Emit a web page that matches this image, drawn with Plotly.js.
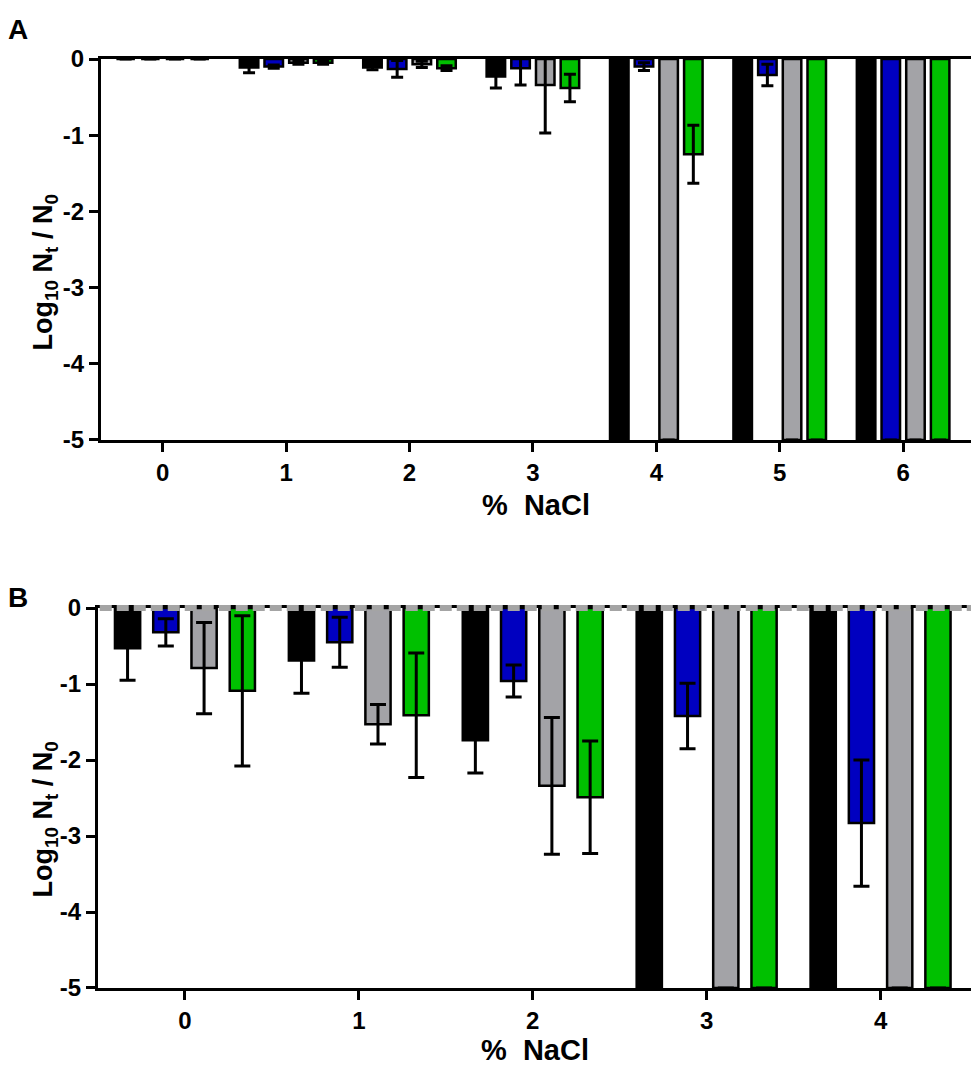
<!DOCTYPE html>
<html>
<head>
<meta charset="utf-8">
<script src="https://cdn.plot.ly/plotly-3.0.1.min.js"></script>
<style>
  body { margin: 0; background: #fff; }
  #chart { width: 975px; height: 1074px; }
</style>
</head>
<body>
<div id="chart"></div>
<script>
// panel A : 0 - 6 % NaCl
let catsA = [0, 1, 2, 3, 4, 5, 6];
let blackA = [0, -0.11, -0.11, -0.23, -5, -5, -5];
let blackErrA = [null, 0.07, 0.03, 0.15, null, null, null];
let blueA = [0, -0.1, -0.13, -0.12, -0.1, -0.21, -5];
let blueErrA = [null, 0.02, 0.11, 0.22, 0.05, 0.14, null];
let grayA = [0, -0.05, -0.07, -0.34, -5, -5, -5];
let grayErrA = [null, 0.02, 0.04, 0.63, null, null, null];
let greenA = [0, -0.05, -0.12, -0.38, -1.25, -5, -5];
let greenErrA = [null, 0.02, 0.03, 0.18, 0.38, null, null];

// panel B : 0 - 4 % NaCl
let catsB = [0, 1, 2, 3, 4];
let blackB = [-0.53, -0.69, -1.74, -5, -5];
let blackErrB = [0.42, 0.43, 0.43, null, null];
let blueB = [-0.32, -0.45, -0.96, -1.42, -2.83];
let blueErrB = [0.18, 0.33, 0.21, 0.43, 0.83];
let grayB = [-0.79, -1.53, -2.34, -5, -5];
let grayErrB = [0.6, 0.26, 0.9, null, null];
let greenB = [-1.09, -1.41, -2.49, -5, -5];
let greenErrB = [0.99, 0.82, 0.74, null, null];

let yTicks = [0, -1, -2, -3, -4, -5];

let colors = ['#000000', '#0000c0', '#a3a3a7', '#00c000'];
let fontFam = 'Liberation Sans, Arial, sans-serif';

//one bar trace, placed in its slot of the group
makeBar = (x, y, err, k, slot, w, capw, xa, ya) => {
    return {
        x: x,
        y: y,
        type: 'bar',
        xaxis: xa,
        yaxis: ya,
        width: w,
        offset: -2 * slot + k * slot + (slot - w) / 2,
        marker: { color: colors[k], line: { color: '#000', width: 2.5 } },
        error_y: {
            type: 'data',
            array: err,
            symmetric: true,
            visible: true,
            color: '#000',
            thickness: 3,
            width: capw
        },
        showlegend: false,
        hoverinfo: 'skip'
    };
}

var data = [
    makeBar(catsA, blackA, blackErrA, 0, 0.2, 0.15, 6, 'x', 'y'),
    makeBar(catsA, blueA, blueErrA, 1, 0.2, 0.15, 6, 'x', 'y'),
    makeBar(catsA, grayA, grayErrA, 2, 0.2, 0.15, 6, 'x', 'y'),
    makeBar(catsA, greenA, greenErrA, 3, 0.2, 0.15, 6, 'x', 'y'),
    makeBar(catsB, blackB, blackErrB, 0, 0.22, 0.145, 8, 'x2', 'y2'),
    makeBar(catsB, blueB, blueErrB, 1, 0.22, 0.145, 8, 'x2', 'y2'),
    makeBar(catsB, grayB, grayErrB, 2, 0.22, 0.145, 8, 'x2', 'y2'),
    makeBar(catsB, greenB, greenErrB, 3, 0.22, 0.145, 8, 'x2', 'y2')
];

var tickFont = { family: fontFam, size: 24, color: '#000', weight: 'bold' };
var xTitleFont = { family: fontFam, size: 29, color: '#000', weight: 'bold' };
var yTitleFont = { family: fontFam, size: 27, color: '#000', weight: 'bold' };
var letterFont = { family: fontFam, size: 28, color: '#000', weight: 'bold' };

xAxisOf = (cats, range, domain, anchor) => ({
    domain: domain,
    anchor: anchor,
    range: range,
    tickvals: cats,
    ticktext: cats.map(String),
    showline: true,
    linecolor: '#000',
    linewidth: 3,
    mirror: true,
    ticks: 'outside',
    ticklen: 9,
    tickwidth: 3,
    tickcolor: '#000',
    showgrid: false,
    zeroline: false,
    tickfont: tickFont
});

yAxisOf = (domain, anchor) => ({
    domain: domain,
    anchor: anchor,
    range: [-5, 0],
    tickvals: yTicks,
    ticktext: yTicks.map(String),
    showline: true,
    linecolor: '#000',
    linewidth: 3,
    ticks: 'outside',
    ticklen: 9,
    tickwidth: 3,
    tickcolor: '#000',
    showgrid: false,
    zeroline: false,
    tickfont: tickFont
});

// axis titles as annotations so they sit where the figure puts them
var yTitle = 'Log<sub>10</sub> N<sub>t</sub> / N<sub>0</sub>';
var xTitle = '%  NaCl';

note = (text, x, y, font, angle, xanchor) => ({
    text: text, textangle: angle, xref: 'paper', yref: 'paper', x: x, y: y,
    xanchor: xanchor, yanchor: 'middle', showarrow: false, font: font
});

var layout = {
    width: 975,
    height: 1074,
    margin: { l: 98, r: 4, t: 59, b: 86 },
    paper_bgcolor: '#fff',
    plot_bgcolor: '#fff',
    barmode: 'overlay',
    xaxis: xAxisOf(catsA, [-0.5, 6.55], [0.0034, 1], 'y'),
    yaxis: yAxisOf([0.59, 1], 'x'),
    xaxis2: xAxisOf(catsB, [-0.5, 4.52], [0, 1], 'y2'),
    yaxis2: yAxisOf([0, 0.409], 'x2'),
    shapes: [
        // grey dotted line laid over the zero line of panel B
        {
            type: 'line', layer: 'above',
            xref: 'paper', yref: 'paper',
            x0: 0.002, x1: 1, y0: 0.409, y1: 0.409,
            line: { color: '#a4a4a4', width: 6, dash: '12px,5px' }
        }
    ],
    annotations: [
        note(yTitle, -0.061, 0.77, yTitleFont, -90, 'center'),
        note(yTitle, -0.061, 0.181, yTitleFont, -90, 'center'),
        note(xTitle, 0.502, 0.52, xTitleFont, 0, 'center'),
        note(xTitle, 0.5, -0.067, xTitleFont, 0, 'center'),
        note('A', -0.105, 1.032, letterFont, 0, 'left'),
        note('B', -0.105, 0.42, letterFont, 0, 'left')
    ]
};

Plotly.newPlot('chart', data, layout, { displayModeBar: false });
</script>
</body>
</html>
